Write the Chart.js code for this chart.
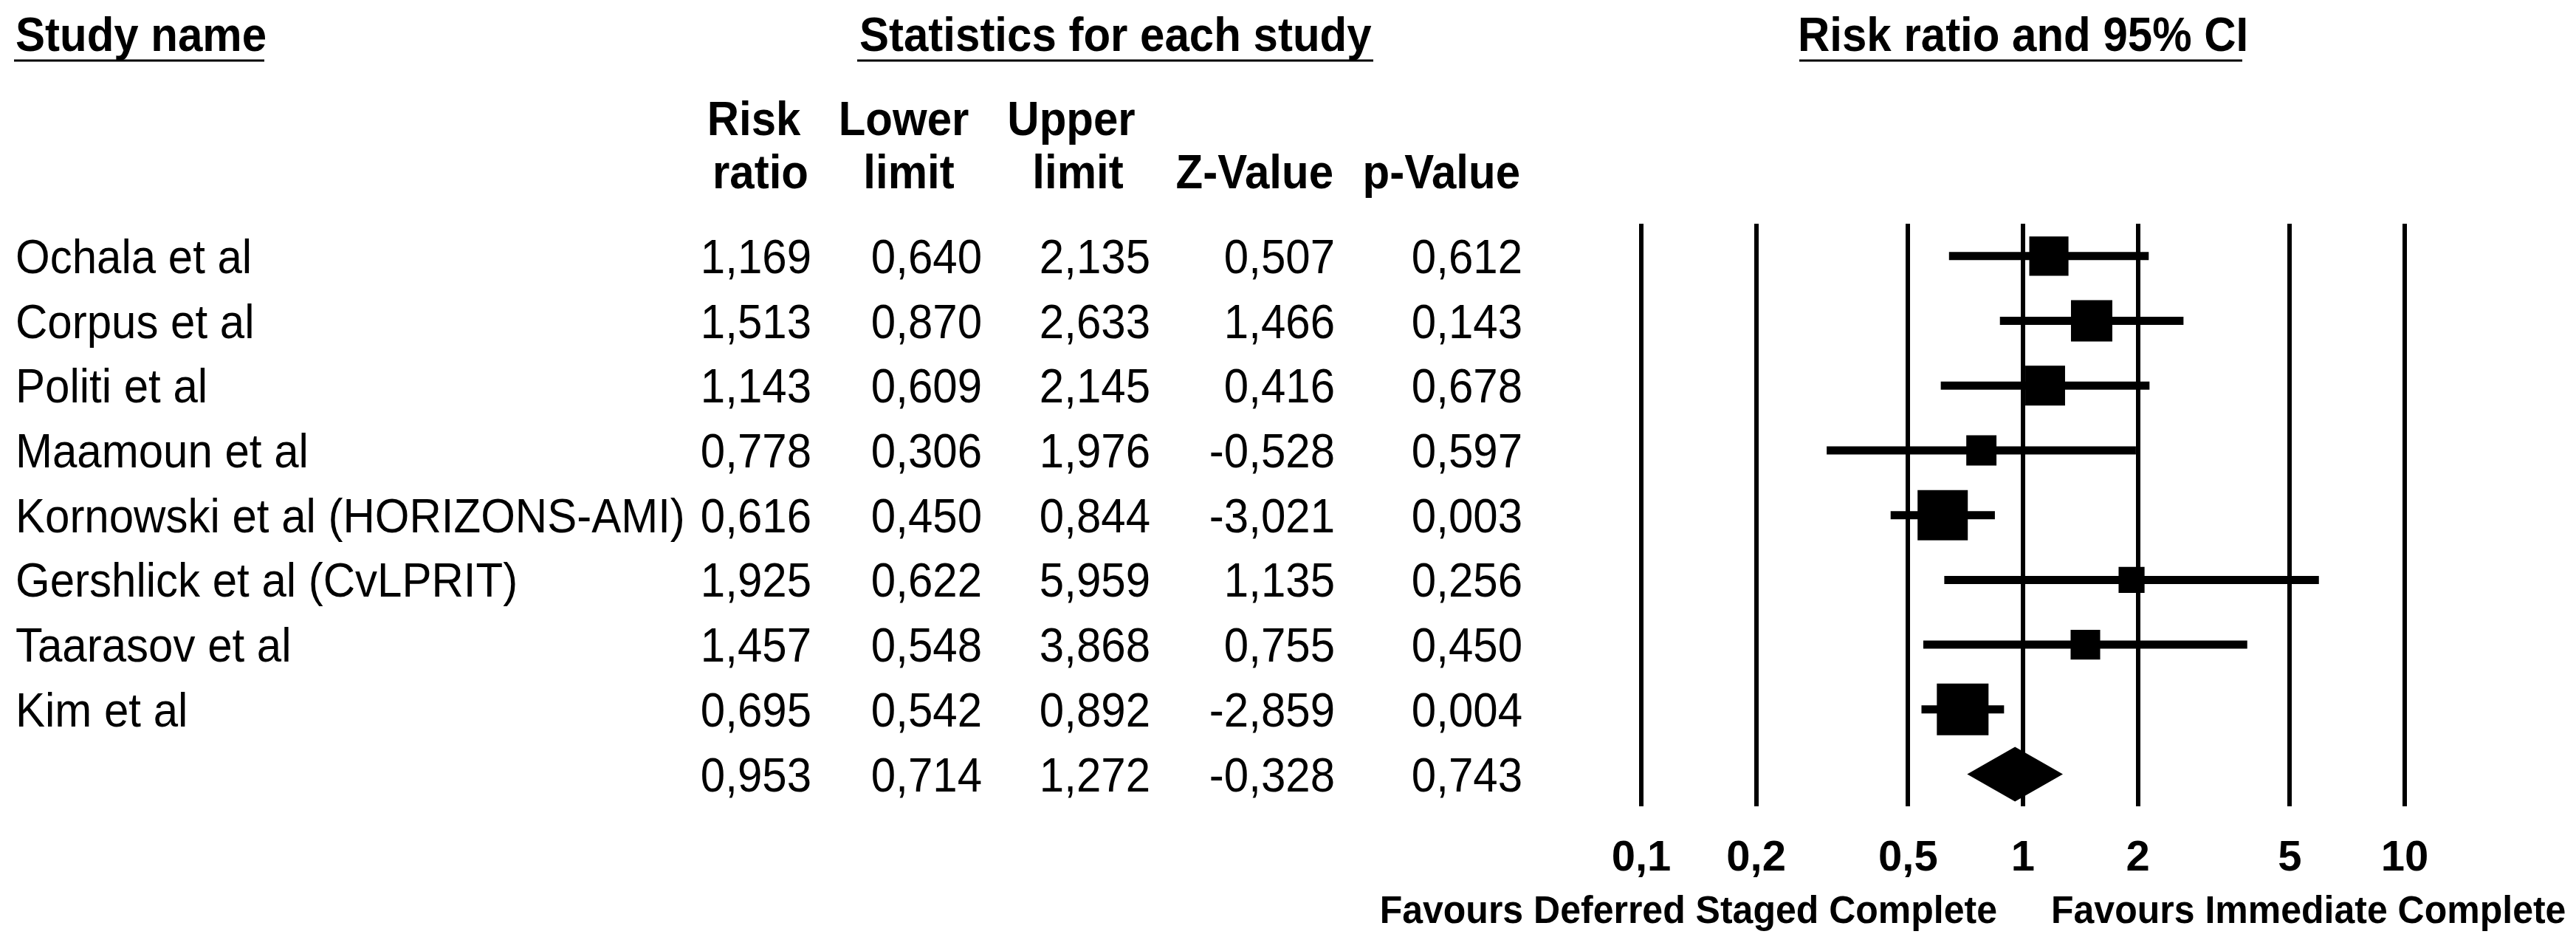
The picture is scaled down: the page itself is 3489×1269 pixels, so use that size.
<!DOCTYPE html>
<html>
<head>
<meta charset="utf-8">
<script src="https://cdn.jsdelivr.net/npm/chart.js@4.4.0/dist/chart.umd.min.js"></script>
<style>
html,body{margin:0;padding:0;background:#fff;}
#wrap{width:3489px;height:1269px;position:relative;}
</style>
</head>
<body>
<div id="wrap"><canvas id="forest"></canvas></div>
<script>
const studies = ['Ochala et al', 'Corpus et al', 'Politi et al', 'Maamoun et al',
  'Kornowski et al (HORIZONS-AMI)', 'Gershlick et al (CvLPRIT)', 'Taarasov et al', 'Kim et al'];
const riskRatio = [1.169, 1.513, 1.143, 0.778, 0.616, 1.925, 1.457, 0.695];
const lowerLimit = [0.640, 0.870, 0.609, 0.306, 0.450, 0.622, 0.548, 0.542];
const upperLimit = [2.135, 2.633, 2.145, 1.976, 0.844, 5.959, 3.868, 0.892];
const zValue = [0.507, 1.466, 0.416, -0.528, -3.021, 1.135, 0.755, -2.859];
const pValue = [0.612, 0.143, 0.678, 0.597, 0.003, 0.256, 0.450, 0.004];
// relative weights (%)
const weights = [12.3, 13.7, 12.7, 7.3, 20.2, 5.4, 7.0, 21.4];
// pooled result: risk ratio, lower, upper, z, p
const summary = [0.953, 0.714, 1.272, -0.328, 0.743];
const xTicks = [0.1, 0.2, 0.5, 1, 2, 5, 10];
const colTitles = ['Study name', 'Statistics for each study', 'Risk ratio and 95% CI'];
const favours = ['Favours Deferred Staged Complete', 'Favours Immediate Complete'];

const FONT = '"Liberation Sans", Arial, sans-serif';
const STRETCH = 1.07;
const fmt = v => v.toFixed(3).replace('.', ',');

function txt(ctx, s, x, y, align, font, sy, maxW){
  ctx.save();
  ctx.font = font;
  ctx.fillStyle = '#000';
  ctx.textAlign = align;
  ctx.textBaseline = 'alphabetic';
  ctx.translate(x, y);
  ctx.scale(1, sy || 1);
  if (maxW) ctx.fillText(s, 0, 0, maxW); else ctx.fillText(s, 0, 0);
  ctx.restore();
}
function hline(ctx, x1, x2, y){
  ctx.save();
  ctx.strokeStyle = '#000';
  ctx.lineWidth = 3;
  ctx.beginPath(); ctx.moveTo(x1, y); ctx.lineTo(x2, y); ctx.stroke();
  ctx.restore();
}

// table + diamond
const tablePlugin = {
  id: 'table',
  afterDatasetsDraw(chart){
    const ctx = chart.ctx, xs = chart.scales.x, ys = chart.scales.y;
    // summary diamond
    const yc = ys.getPixelForValue(studies.length), h = 37;
    ctx.save();
    ctx.fillStyle = '#000';
    ctx.beginPath();
    ctx.moveTo(xs.getPixelForValue(summary[1]), yc);
    ctx.lineTo(xs.getPixelForValue(summary[0]), yc - h);
    ctx.lineTo(xs.getPixelForValue(summary[2]), yc);
    ctx.lineTo(xs.getPixelForValue(summary[0]), yc + h);
    ctx.closePath();
    ctx.fill();
    ctx.restore();
  },
  afterDraw(chart){
    const ctx = chart.ctx, ys = chart.scales.y;
    const bold = 'bold 60px ' + FONT, reg = '60px ' + FONT;
    // column titles
    txt(ctx, colTitles[0], 21, 69, 'left', bold, STRETCH);
    txt(ctx, colTitles[1], 1164, 69, 'left', bold, STRETCH);
    txt(ctx, colTitles[2], 2435, 69, 'left', bold, STRETCH);
    hline(ctx, 19, 358, 82);
    hline(ctx, 1161, 1860, 82);
    hline(ctx, 2437, 3037, 82);
    // column headers
    txt(ctx, 'Risk', 1021, 183, 'center', bold, STRETCH);
    txt(ctx, 'ratio', 1030, 255, 'center', bold, STRETCH);
    txt(ctx, 'Lower', 1224, 183, 'center', bold, STRETCH);
    txt(ctx, 'limit', 1231, 255, 'center', bold, STRETCH);
    txt(ctx, 'Upper', 1451, 183, 'center', bold, STRETCH);
    txt(ctx, 'limit', 1460, 255, 'center', bold, STRETCH);
    txt(ctx, 'Z-Value', 1806, 255, 'right', bold, STRETCH);
    txt(ctx, 'p-Value', 2059, 255, 'right', bold, STRETCH);
    // rows
    const colRight = [1099, 1330, 1558, 1808, 2062];
    const rows = studies.map((s, i) => [s, riskRatio[i], lowerLimit[i], upperLimit[i], zValue[i], pValue[i]]);
    rows.push([''].concat(summary));
    rows.forEach((r, i) => {
      const y = ys.getPixelForValue(i) + 23;
      if (r[0]) txt(ctx, r[0], 21, y, 'left', reg, STRETCH, 912);
      for (let c = 1; c < 6; c++) txt(ctx, fmt(r[c]), colRight[c - 1], y, 'right', reg, STRETCH);
    });
    // favours labels
    txt(ctx, favours[0], 2705, 1250, 'right', 'bold 50px ' + FONT, 1.05);
    txt(ctx, favours[1], 2778, 1250, 'left', 'bold 50px ' + FONT, 1.05);
  }
};

const ciSets = studies.map((s, i) => ({
  type: 'scatter',
  label: s,
  data: [{x: lowerLimit[i], y: i}, {x: upperLimit[i], y: i}],
  showLine: true,
  borderColor: '#000',
  borderWidth: 11,
  borderCapStyle: 'butt',
  pointRadius: 0
}));
const maxW = Math.max(...weights);
const squares = {
  type: 'scatter',
  label: 'Risk ratio',
  data: riskRatio.map((v, i) => ({x: v, y: i})),
  pointStyle: 'rect',
  pointRadius: weights.map(w => 70 * Math.sqrt(w / maxW) / Math.SQRT2),
  backgroundColor: '#000',
  borderWidth: 0
};

new Chart(document.getElementById('forest'), {
  type: 'scatter',
  data: { datasets: ciSets.concat([squares]) },
  options: {
    responsive: true,
    maintainAspectRatio: false,
    devicePixelRatio: 1,
    animation: false,
    events: [],
    layout: { padding: { top: 303, left: 2223, right: 232, bottom: 35 } },
    plugins: { legend: { display: false }, tooltip: { enabled: false } },
    scales: {
      x: {
        type: 'logarithmic',
        min: 0.1,
        max: 10,
        afterBuildTicks: axis => { axis.ticks = xTicks.map(v => ({ value: v })); },
        ticks: {
          color: '#000',
          padding: 36,
          autoSkip: false,
          maxRotation: 0,
          font: { family: FONT, size: 58, weight: 'bold' },
          callback: v => String(v).replace('.', ',')
        },
        grid: { color: '#000', lineWidth: 6, drawTicks: false },
        border: { display: false }
      },
      y: {
        type: 'linear',
        min: -0.5,
        max: studies.length + 0.5,
        reverse: true,
        display: false
      }
    }
  },
  plugins: [tablePlugin]
});
</script>
</body>
</html>
